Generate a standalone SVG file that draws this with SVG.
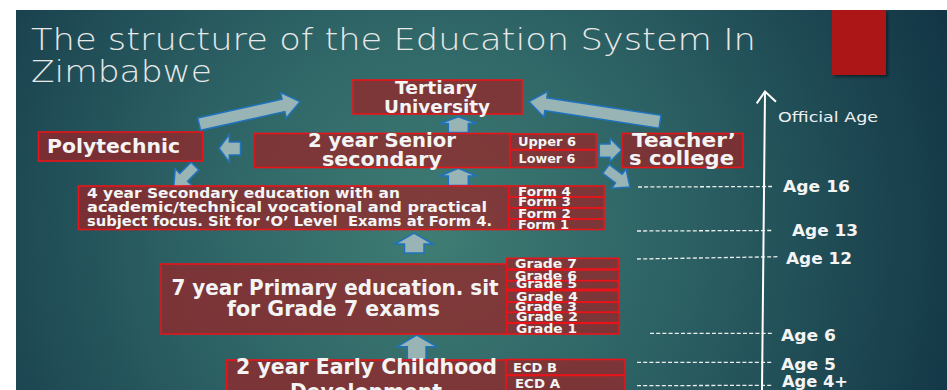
<svg xmlns="http://www.w3.org/2000/svg" width="947" height="390" viewBox="0 0 947 390">
  <defs>
    <radialGradient id="bg" cx="430" cy="230" r="560" gradientUnits="userSpaceOnUse">
      <stop offset="0" stop-color="#3f7d74"/>
      <stop offset="0.45" stop-color="#2c6164"/>
      <stop offset="1" stop-color="#123545"/>
    </radialGradient>
    <filter id="shadow" x="-20%" y="-20%" width="150%" height="150%">
      <feDropShadow dx="2" dy="2" stdDeviation="1.5" flood-color="#000" flood-opacity="0.45"/>
    </filter>
  </defs>
  <style>
    .box { fill: #9a2226; fill-opacity: 0.72; stroke: #e8141a; stroke-width: 1.6; }
    .arrow { fill: #98b4b4; stroke: #1e73be; stroke-width: 1.5; stroke-linejoin: miter; }
    .lbl { font-family: "DejaVu Sans", "Liberation Sans", sans-serif; font-weight: bold; fill: #f4f4f4; }
    .sm { font-size: 11.5px; }
    .title { font-family: "DejaVu Sans", "Liberation Sans", sans-serif; font-weight: 200; fill: #e8e8e8; font-size: 31px; }
    .age { font-family: "DejaVu Sans", "Liberation Sans", sans-serif; font-weight: bold; fill: #f4f4f4; font-size: 15px; }
    .dash { stroke: #f0f0f0; stroke-width: 1.3; stroke-dasharray: 4 2.2; fill: none; }
    .axis { stroke: #ffffff; stroke-width: 2; fill: none; }
  </style>

  <!-- slide background -->
  <rect x="0" y="0" width="947" height="390" fill="#ffffff"/>
  <rect x="16" y="10" width="931" height="380" fill="url(#bg)"/>

  <!-- accent block -->
  <rect x="832" y="10" width="54" height="65" fill="#ad1616" filter="url(#shadow)"/>

  <!-- title -->
  <text class="title" x="31" y="50" textLength="725" lengthAdjust="spacingAndGlyphs">The structure of the Education System In</text>
  <text class="title" x="31" y="82" textLength="181" lengthAdjust="spacingAndGlyphs">Zimbabwe</text>

  <!-- connectors -->
  <g id="connectors">
    <!-- secondary to polytechnic (large, diagonal) -->
    <path class="arrow" transform="translate(199.2,124.2) rotate(-12.6)" d="M0,-6.3 L86.3,-6.3 L86.3,-13 L103.3,0 L86.3,13 L86.3,6.3 L0,6.3 Z"/>
    <!-- teacher's college to university (large, diagonal) -->
    <path class="arrow" transform="translate(660,121.7) rotate(188.7)" d="M0,-6.5 L115.5,-6.5 L115.5,-13 L132.5,0 L115.5,13 L115.5,6.5 L0,6.5 Z"/>
    <!-- senior secondary up to university -->
    <path class="arrow" d="M448.3,132.5 L448.3,123.5 L440,123.5 L458.3,116.7 L476.7,123.5 L468.3,123.5 L468.3,132.5 Z"/>
    <!-- forms up to senior secondary -->
    <path class="arrow" d="M448.3,185.5 L448.3,176 L440,176 L458.3,168.3 L476.7,176 L468.3,176 L468.3,185.5 Z"/>
    <!-- primary up to secondary -->
    <path class="arrow" d="M404.5,253 L404.5,244 L395,244 L414,233 L433,244 L424,244 L424,253 Z"/>
    <!-- ECD up to primary -->
    <path class="arrow" d="M407.3,359.5 L407.3,346.7 L397.3,346.7 L416.7,335 L436.7,346.7 L426,346.7 L426,359.5 Z"/>
    <!-- senior secondary to polytechnic -->
    <path class="arrow" d="M240.5,142 L229.3,142 L229.3,134.5 L219,148.3 L229.3,162.3 L229.3,155 L240.5,155 Z"/>
    <!-- senior secondary to teacher's college -->
    <path class="arrow" d="M599.3,144 L610,144 L610,138.3 L621.7,150 L610,161.7 L610,157.3 L599.3,157.3 Z"/>
    <!-- small diagonal arrows -->
    <path class="arrow" transform="translate(195,166) rotate(135)" d="M0,-5.5 L16,-5.5 L16,-12 L30,0 L16,12 L16,5.5 L0,5.5 Z"/>
    <path class="arrow" transform="translate(606,169) rotate(37)" d="M0,-5.5 L16,-5.5 L16,-12 L30,0 L16,12 L16,5.5 L0,5.5 Z"/>
  </g>

  <!-- tertiary -->
  <g id="tertiary">
    <rect class="box" x="353" y="80" width="169" height="34"/>
    <text class="lbl" x="436" y="94" font-size="18" text-anchor="middle" textLength="82" lengthAdjust="spacingAndGlyphs">Tertiary</text>
    <text class="lbl" x="437" y="113" font-size="18" text-anchor="middle" textLength="106" lengthAdjust="spacingAndGlyphs">University</text>
  </g>

  <!-- polytechnic -->
  <g id="polytechnic">
    <rect class="box" x="38.5" y="132" width="164" height="29"/>
    <text class="lbl" x="47" y="152.5" font-size="19" textLength="133" lengthAdjust="spacingAndGlyphs">Polytechnic</text>
  </g>

  <!-- senior secondary -->
  <g id="senior-secondary">
    <rect class="box" x="254" y="133.5" width="256" height="34"/>
    <text class="lbl" x="382" y="146.5" font-size="19" text-anchor="middle" textLength="148" lengthAdjust="spacingAndGlyphs">2 year Senior</text>
    <text class="lbl" x="382" y="165.5" font-size="19" text-anchor="middle" textLength="120" lengthAdjust="spacingAndGlyphs">secondary</text>
  </g>
  <g id="upper-6">
    <rect class="box" x="510" y="134" width="86" height="15.5"/>
    <text class="lbl sm" x="518" y="146" textLength="58" lengthAdjust="spacingAndGlyphs">Upper 6</text>
  </g>
  <g id="lower-6">
    <rect class="box" x="510" y="150" width="86" height="17.5"/>
    <text class="lbl sm" x="518.5" y="162.5" textLength="57" lengthAdjust="spacingAndGlyphs">Lower 6</text>
  </g>

  <!-- teacher's college -->
  <g id="teachers-college">
    <rect class="box" x="622" y="133.5" width="121" height="34"/>
    <text class="lbl" x="632" y="147" font-size="20" textLength="104" lengthAdjust="spacingAndGlyphs">Teacher’</text>
    <text class="lbl" x="629" y="165" font-size="20" textLength="105" lengthAdjust="spacingAndGlyphs">s college</text>
  </g>

  <!-- lower secondary -->
  <g id="secondary">
    <rect class="box" x="78.5" y="186" width="430.5" height="43.5"/>
    <text class="lbl" x="87" y="197.5" font-size="13.5" textLength="313" lengthAdjust="spacingAndGlyphs">4 year Secondary education with an</text>
    <text class="lbl" x="87" y="211.5" font-size="13.5" textLength="400" lengthAdjust="spacingAndGlyphs">academic/technical vocational and practical</text>
    <text class="lbl" x="87" y="225.5" font-size="13.5" textLength="405" lengthAdjust="spacingAndGlyphs" xml:space="preserve">subject focus. Sit for ‘O’ Level  Exams at Form 4.</text>
  </g>
  <g id="form-4">
    <rect class="box" x="509" y="186" width="95" height="11"/>
    <text class="lbl sm" x="518" y="196" textLength="53" lengthAdjust="spacingAndGlyphs">Form 4</text>
  </g>
  <g id="form-3">
    <rect class="box" x="509" y="197" width="95" height="11"/>
    <text class="lbl sm" x="518" y="206" textLength="53" lengthAdjust="spacingAndGlyphs">Form 3</text>
  </g>
  <g id="form-2">
    <rect class="box" x="509" y="208" width="95" height="11"/>
    <text class="lbl sm" x="518" y="218" textLength="53" lengthAdjust="spacingAndGlyphs">Form 2</text>
  </g>
  <g id="form-1">
    <rect class="box" x="509" y="219" width="95" height="10.5"/>
    <text class="lbl sm" x="518" y="229" textLength="51" lengthAdjust="spacingAndGlyphs">Form 1</text>
  </g>

  <!-- primary -->
  <g id="primary">
    <rect class="box" x="161" y="264" width="345.7" height="70"/>
    <text class="lbl" x="335" y="295" font-size="21" text-anchor="middle" textLength="327" lengthAdjust="spacingAndGlyphs">7 year Primary education. sit</text>
    <text class="lbl" x="333.5" y="315.5" font-size="21" text-anchor="middle" textLength="213" lengthAdjust="spacingAndGlyphs">for Grade 7 exams</text>
  </g>
  <g id="grade-7">
    <rect class="box" x="506.7" y="258.3" width="111.6" height="10.7"/>
    <text class="lbl sm" x="515" y="267.5" textLength="62" lengthAdjust="spacingAndGlyphs">Grade 7</text>
  </g>
  <g id="grade-6">
    <rect class="box" x="506.7" y="270" width="112.3" height="10.7"/>
    <text class="lbl sm" x="515" y="279.5" textLength="62" lengthAdjust="spacingAndGlyphs">Grade 6</text>
  </g>
  <g id="grade-5">
    <rect class="box" x="506.7" y="280.7" width="111.6" height="8.6"/>
    <text class="lbl sm" x="516" y="288" textLength="61" lengthAdjust="spacingAndGlyphs">Grade 5</text>
  </g>
  <g id="grade-4">
    <rect class="box" x="506.7" y="290.7" width="111.6" height="11.3"/>
    <text class="lbl sm" x="516" y="300.8" textLength="62" lengthAdjust="spacingAndGlyphs">Grade 4</text>
  </g>
  <g id="grade-3">
    <rect class="box" x="506.7" y="302.3" width="112.3" height="10"/>
    <text class="lbl sm" x="515" y="311" textLength="62" lengthAdjust="spacingAndGlyphs">Grade 3</text>
  </g>
  <g id="grade-2">
    <rect class="box" x="506.7" y="312.3" width="112.6" height="10.4"/>
    <text class="lbl sm" x="516" y="321.2" textLength="62" lengthAdjust="spacingAndGlyphs">Grade 2</text>
  </g>
  <g id="grade-1">
    <rect class="box" x="506.7" y="323.3" width="112.3" height="10.7"/>
    <text class="lbl sm" x="516" y="332.5" textLength="61" lengthAdjust="spacingAndGlyphs">Grade 1</text>
  </g>

  <!-- early childhood -->
  <g id="ecd">
    <rect class="box" x="226.7" y="360" width="279.3" height="50"/>
    <text class="lbl" x="366.5" y="374" font-size="21" text-anchor="middle" textLength="261" lengthAdjust="spacingAndGlyphs">2 year Early Childhood</text>
    <text class="lbl" x="366" y="399" font-size="21" text-anchor="middle" textLength="152" lengthAdjust="spacingAndGlyphs">Development</text>
  </g>
  <g id="ecd-b">
    <rect class="box" x="506" y="359.5" width="119" height="15.5"/>
    <text class="lbl sm" x="513" y="371.7" textLength="44" lengthAdjust="spacingAndGlyphs">ECD B</text>
  </g>
  <g id="ecd-a">
    <rect class="box" x="506" y="375.5" width="119" height="35"/>
    <text class="lbl sm" x="515" y="388" textLength="45" lengthAdjust="spacingAndGlyphs">ECD A</text>
  </g>

  <!-- official age scale -->
  <g id="age-scale">
    <line class="axis" x1="765" y1="92" x2="762" y2="390"/>
    <polyline class="axis" points="756.7,103.3 765,91.5 776,101.7"/>
    <text x="778" y="122" font-family="DejaVu Sans, Liberation Sans, sans-serif" font-size="14.5" fill="#f0f0f0" textLength="100" lengthAdjust="spacingAndGlyphs">Official Age</text>

    <line class="dash" x1="638" y1="187" x2="772" y2="186.5"/>
    <text class="age" x="783" y="192" textLength="67" lengthAdjust="spacingAndGlyphs">Age 16</text>

    <line class="dash" x1="637" y1="231" x2="773" y2="230.5"/>
    <text class="age" x="792" y="236" textLength="66" lengthAdjust="spacingAndGlyphs">Age 13</text>

    <line class="dash" x1="637" y1="259" x2="778" y2="256.7"/>
    <text class="age" x="786" y="263.5" textLength="66" lengthAdjust="spacingAndGlyphs">Age 12</text>

    <line class="dash" x1="650" y1="333.3" x2="772" y2="333.3"/>
    <text class="age" x="781" y="341" textLength="55" lengthAdjust="spacingAndGlyphs">Age 6</text>

    <line class="dash" x1="637" y1="362.3" x2="772" y2="362.3"/>
    <text class="age" x="781" y="369.5" textLength="55" lengthAdjust="spacingAndGlyphs">Age 5</text>

    <line class="dash" x1="637" y1="385.7" x2="772" y2="385.3"/>
    <text class="age" x="782" y="386.5" textLength="66" lengthAdjust="spacingAndGlyphs">Age 4+</text>
  </g>
</svg>
